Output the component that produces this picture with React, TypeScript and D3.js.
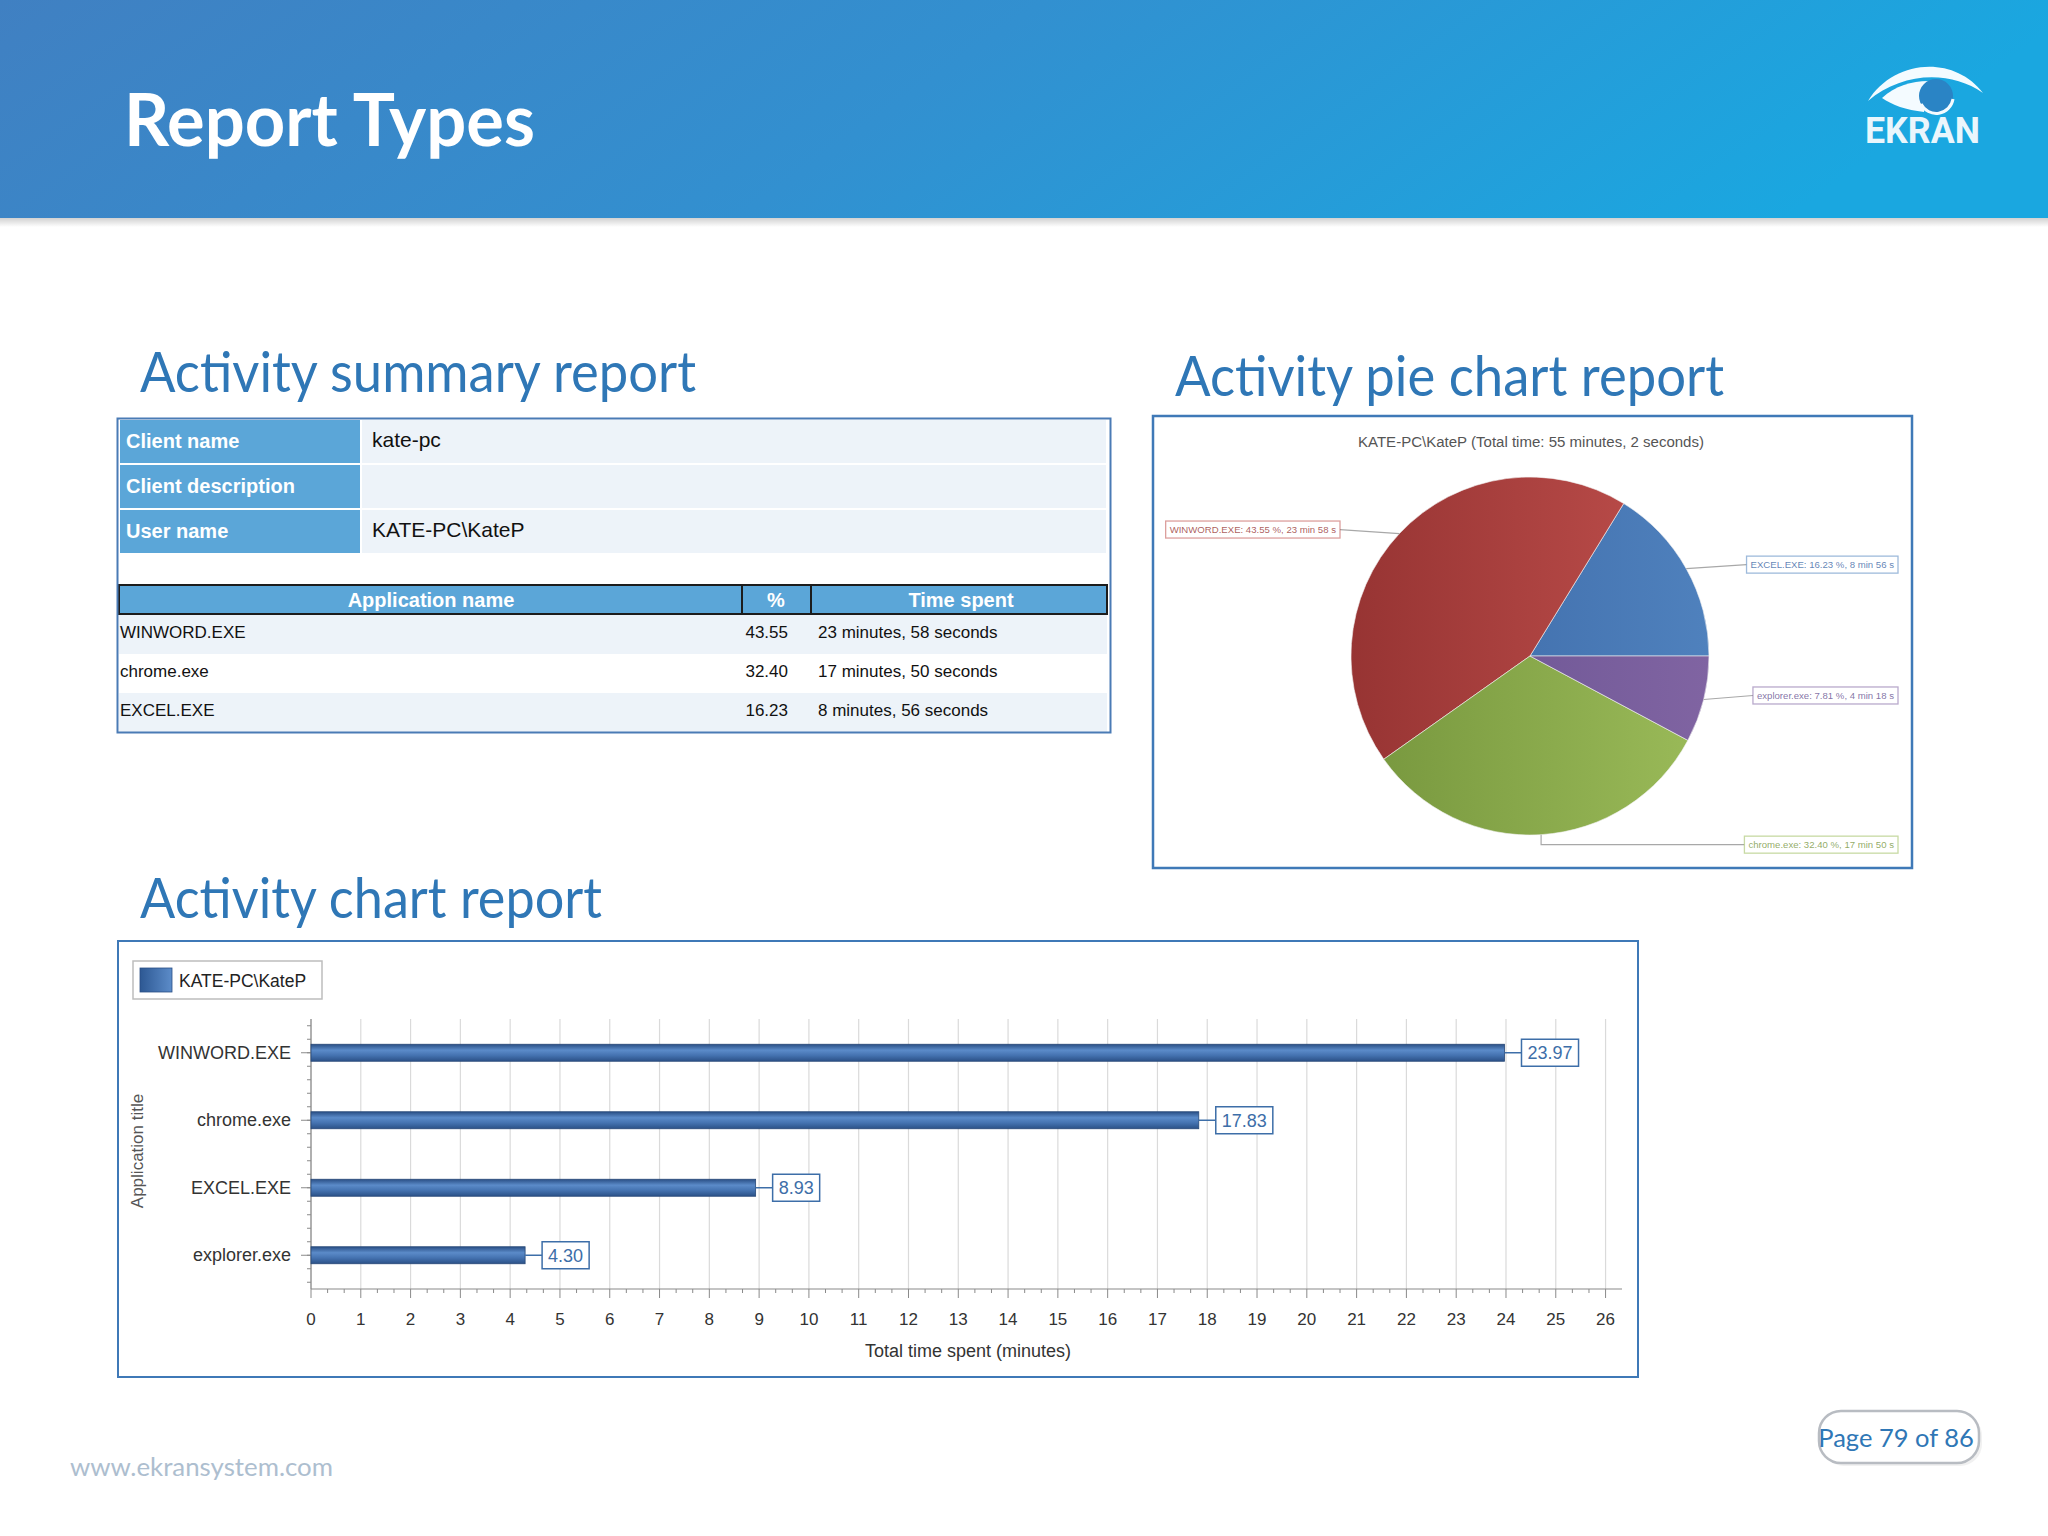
import React from 'react';
import * as d3 from 'd3';

const W = 2048;
const H = 1536;

// Activity summary report
const infoLabels = ['Client name', 'Client description', 'User name'];
const infoValues = ['kate-pc', '', 'KATE-PC\\KateP'];
const tableHeaders = ['Application name', '%', 'Time spent'];
const appNames = ['WINWORD.EXE', 'chrome.exe', 'EXCEL.EXE'];
const appPercents = [43.55, 32.4, 16.23];
const appTimes = ['23 minutes, 58 seconds', '17 minutes, 50 seconds', '8 minutes, 56 seconds'];

// Activity pie chart report (counter-clockwise from 3 o'clock)
const pieTitle = 'KATE-PC\\KateP (Total time: 55 minutes, 2 seconds)';
const pieApps = ['EXCEL.EXE', 'WINWORD.EXE', 'chrome.exe', 'explorer.exe'];
const piePercents = [16.23, 43.55, 32.4, 7.81];
const pieTimes = ['8 min 56 s', '23 min 58 s', '17 min 50 s', '4 min 18 s'];
const pieColors = ['#4f81bd', '#c0504d', '#9bbb59', '#8064a2'];
const pieDark = ['#3a66a4', '#973433', '#76963d', '#65508f'];

// Activity chart report
const seriesName = 'KATE-PC\\KateP';
const barApps = ['WINWORD.EXE', 'chrome.exe', 'EXCEL.EXE', 'explorer.exe'];
const barMinutes = [23.97, 17.83, 8.93, 4.3];
const xTickValues = d3.range(0, 27);

const ctx = document.createElement('canvas').getContext('2d');
const measure = (t: string, font: string) => {
  if (!ctx) return t.length * 8;
  ctx.font = font;
  return ctx.measureText(t).width;
};

const TITLE_BLUE = '#2f77b6';
const CELL_BLUE = '#5ba6d8';
const CELL_LIGHT = '#edf3f9';

function SummaryTable() {
  return (
    <g fontFamily="'Liberation Sans', Arial, sans-serif">
      {infoLabels.map((lab, i) => {
        const top = 420 + i * 45;
        return (
          <g key={lab}>
            <rect x={120} y={top} width={240} height={43} fill={CELL_BLUE} />
            <rect x={362} y={top} width={744} height={43} fill={CELL_LIGHT} />
            <text x={126} y={top + 28} fill="#fff" fontWeight="bold" fontSize={20}>{lab}</text>
            <text x={372} y={top + 27} fill="#111" fontSize={21}>{infoValues[i]}</text>
          </g>
        );
      })}
      <rect x={119} y={585} width={988} height={29} fill={CELL_BLUE} stroke="#1c1c1c" strokeWidth={2} />
      <line x1={742} x2={742} y1={585} y2={614} stroke="#1c1c1c" strokeWidth={2} />
      <line x1={811} x2={811} y1={585} y2={614} stroke="#1c1c1c" strokeWidth={2} />
      {tableHeaders.map((h, i) => (
        <text key={h} x={[431, 776, 961][i]} y={607} textAnchor="middle" fill="#fff" fontWeight="bold" fontSize={20}>{h}</text>
      ))}
      {appNames.map((name, i) => {
        const top = 615 + i * 39;
        return (
          <g key={name}>
            <rect x={119} y={top} width={988} height={39} fill={i % 2 === 0 ? CELL_LIGHT : '#ffffff'} />
            <text x={120} y={top + 23} fill="#111" fontSize={17}>{name}</text>
            <text x={788} y={top + 23} fill="#111" fontSize={17} textAnchor="end">{appPercents[i].toFixed(2)}</text>
            <text x={818} y={top + 23} fill="#111" fontSize={17}>{appTimes[i]}</text>
          </g>
        );
      })}
      <rect x={117.5} y={418.5} width={993} height={314} fill="none" stroke="#4a7bb5" strokeWidth={2} />
    </g>
  );
}

function PieChart() {
  const cx = 1530;
  const cy = 656;
  const r = 179;
  const pie = d3.pie<number>().sort(null).startAngle(Math.PI / 2).endAngle(Math.PI / 2 - 2 * Math.PI);
  const arcs = pie(piePercents);
  const arc = d3.arc<d3.PieArcDatum<number>>().innerRadius(0).outerRadius(r);
  const edge = d3.arc<d3.PieArcDatum<number>>().innerRadius(r).outerRadius(r);
  const labelFont = "9.6px 'Liberation Sans'";
  return (
    <g>
      <rect x={1153} y={416} width={759} height={452} fill="#fff" stroke="#3f79b7" strokeWidth={2.5} />
      <defs>
        {pieColors.map((c, i) => (
          <linearGradient key={c} id={`pg${i}`} gradientUnits="userSpaceOnUse" x1={-r} y1={0} x2={r} y2={0}>
            <stop offset="0%" stopColor={pieDark[i]} />
            <stop offset="100%" stopColor={c} />
          </linearGradient>
        ))}
      </defs>
      <text x={1531} y={447} textAnchor="middle" fontSize={14} fill="#555" fontFamily="'Liberation Sans', Arial, sans-serif" textLength={346} lengthAdjust="spacingAndGlyphs">{pieTitle}</text>
      <g transform={`translate(${cx},${cy})`}>
        {arcs.map((a, i) => (
          <path key={pieApps[i]} d={arc(a) || ''} fill={`url(#pg${i})`} stroke="#f2f2f2" strokeWidth={0.6} />
        ))}
      </g>
      {arcs.map((a, i) => {
        const [px, py] = edge.centroid(a);
        const ex = cx + px;
        const ey = cy + py;
        const right = px > 0;
        const bottom = py > r * 0.9;
        const ly = bottom ? ey + 10 : ey - 4;
        const label = `${pieApps[i]}: ${piePercents[i].toFixed(2)} %, ${pieTimes[i]}`;
        const tw = measure(label, labelFont);
        const bw = tw + 8;
        const bx = right ? 1898 - bw : 1340 - bw;
        const lineEnd = right ? bx : bx + bw;
        const pts = bottom ? `${ex},${ey} ${ex},${ly} ${lineEnd},${ly}` : `${ex},${ey} ${lineEnd},${ly}`;
        return (
          <g key={pieApps[i]}>
            <polyline points={pts} fill="none" stroke="#a8a8a8" strokeWidth={1.2} />
            <rect x={bx} y={ly - 8.5} width={bw} height={17} fill="#fff" stroke={pieColors[i]} strokeOpacity={0.55} strokeWidth={1.3} />
            <text x={bx + 4} y={ly + 3.5} fontSize={9.6} fontFamily="'Liberation Sans', Arial, sans-serif" fill={pieDark[i]} fillOpacity={0.8}>{label}</text>
          </g>
        );
      })}
    </g>
  );
}

function BarChart() {
  const x = d3.scaleLinear().domain([0, 26.33]).range([311, 1622]);
  const y = d3.scaleBand<string>().domain(barApps).range([1019, 1289]);
  const bw = y.bandwidth();
  const barH = 17;
  const font = "'Liberation Sans', Arial, sans-serif";
  const minorY: number[] = [];
  const step = bw / 5;
  for (let v = 1019 + bw / 2 - step * 2; v <= 1289; v += step) if (v >= 1019) minorY.push(v);
  const minorX = d3.range(0, 26.33, 1 / 3).filter((v) => Math.abs(v - Math.round(v)) > 0.01);
  return (
    <g fontFamily={font}>
      <rect x={118} y={941} width={1520} height={436} fill="#fff" stroke="#3f79b7" strokeWidth={2} />
      <defs>
        <linearGradient id="barGrad" x1="0" y1="0" x2="0" y2="1">
          <stop offset="0%" stopColor="#2a4f85" />
          <stop offset="35%" stopColor="#5b8bc9" />
          <stop offset="65%" stopColor="#4573b1" />
          <stop offset="100%" stopColor="#2b5187" />
        </linearGradient>
        <linearGradient id="legGrad" x1="0" y1="0" x2="1" y2="0">
          <stop offset="0%" stopColor="#2d5893" />
          <stop offset="100%" stopColor="#5c8cc9" />
        </linearGradient>
      </defs>
      {/* legend */}
      <rect x={133} y={961} width={189} height={38} fill="#fff" stroke="#bdbdbd" strokeWidth={1.5} />
      <rect x={140} y={968} width={32} height={24} fill="url(#legGrad)" stroke="#2a4f85" strokeWidth={0.8} />
      <text x={179} y={987} fontSize={17.5} fill="#222">{seriesName}</text>
      {/* grid */}
      {xTickValues.map((t) => (
        <line key={t} x1={x(t)} x2={x(t)} y1={1019} y2={1289} stroke="#dadada" strokeWidth={1.2} />
      ))}
      {/* axes */}
      <line x1={311} x2={311} y1={1019} y2={1289} stroke="#8a8a8a" strokeWidth={1.2} />
      <line x1={311} x2={1622} y1={1289} y2={1289} stroke="#8a8a8a" strokeWidth={1.2} />
      {minorY.map((v, i) => (
        <line key={`my${i}`} x1={307} x2={311} y1={v} y2={v} stroke="#8a8a8a" strokeWidth={1} />
      ))}
      {barApps.map((a) => {
        const c = (y(a) || 0) + bw / 2;
        return <line key={`ty${a}`} x1={301} x2={311} y1={c} y2={c} stroke="#8a8a8a" strokeWidth={1} />;
      })}
      {minorX.map((v, i) => (
        <line key={`mx${i}`} x1={x(v)} x2={x(v)} y1={1289} y2={1293} stroke="#8a8a8a" strokeWidth={1} />
      ))}
      {xTickValues.map((t) => (
        <g key={`tx${t}`}>
          <line x1={x(t)} x2={x(t)} y1={1289} y2={1298} stroke="#8a8a8a" strokeWidth={1} />
          <text x={x(t)} y={1325} textAnchor="middle" fontSize={17} fill="#333">{t}</text>
        </g>
      ))}
      {/* bars */}
      {barApps.map((a, i) => {
        const c = (y(a) || 0) + bw / 2;
        const v = barMinutes[i];
        const end = x(v);
        const lab = v.toFixed(2);
        const tw = measure(lab, `18px ${font}`);
        const bx = end + 17;
        return (
          <g key={a}>
            <text x={291} y={c + 6} textAnchor="end" fontSize={18} fill="#333">{a}</text>
            <rect x={311} y={c - barH / 2} width={end - 311} height={barH} fill="url(#barGrad)" stroke="#274877" strokeWidth={0.8} />
            <line x1={end} x2={bx} y1={c} y2={c} stroke="#3d6ea8" strokeWidth={1.5} />
            <rect x={bx} y={c - 13.5} width={tw + 12} height={27} fill="#fff" stroke="#3d6ea8" strokeWidth={1.5} />
            <text x={bx + 6} y={c + 6.5} fontSize={18} fill="#3d6ea8">{lab}</text>
          </g>
        );
      })}
      <text x={968} y={1357} textAnchor="middle" fontSize={18} fill="#333">Total time spent (minutes)</text>
      <text transform="translate(143,1151) rotate(-90)" textAnchor="middle" fontSize={17} fill="#555">Application title</text>
    </g>
  );
}

export default function App() {
  return (
    <svg width={W} height={H} viewBox={`0 0 ${W} ${H}`} style={{ position: 'absolute', left: 0, top: 0, background: '#fff' }}>
      <defs>
        <linearGradient id="hdr" x1="0" y1="0" x2="1" y2="0.15">
          <stop offset="0%" stopColor="#4080c2" />
          <stop offset="50%" stopColor="#3290d0" />
          <stop offset="100%" stopColor="#1aa7e0" />
        </linearGradient>
        <linearGradient id="hdrShadow" x1="0" y1="0" x2="0" y2="1">
          <stop offset="0%" stopColor="#000" stopOpacity={0.18} />
          <stop offset="100%" stopColor="#000" stopOpacity={0} />
        </linearGradient>
      </defs>
      <rect width={W} height={H} fill="#fff" />
      {/* header band */}
      <rect x={0} y={0} width={W} height={218} fill="url(#hdr)" />
      <rect x={0} y={218} width={W} height={9} fill="url(#hdrShadow)" />
      <text x={124} y={146} fill="#fff" fontFamily="Lato, 'Open Sans', sans-serif" fontWeight="bold" fontSize={72} textLength={411} lengthAdjust="spacingAndGlyphs">Report Types</text>
      {/* logo */}
      <g>
        <path d="M1868,101 C1893,60 1953,54 1983,93 C1950,70 1902,72 1868,101 Z" fill="#f4fbff" />
        <path d="M1882,98 C1895,86 1912,81 1928,81 L1924,112 C1906,110 1892,105 1882,98 Z" fill="#f4fbff" />
        <circle cx={1936} cy={96} r={17} fill="#2a84c5" />
        <path d="M1921,104 A17,17 0 0 0 1953,99" fill="none" stroke="#f4fbff" strokeWidth={3} />
        <text x={1865} y={143} fill="#eaf6fc" fontFamily="Roboto, 'Open Sans', sans-serif" fontWeight="bold" fontSize={36} textLength={115} lengthAdjust="spacingAndGlyphs">EKRAN</text>
      </g>
      {/* section titles */}
      <g fontFamily="Lato, 'Open Sans', sans-serif" fill={TITLE_BLUE} fontSize={56}>
        <text x={140} y={392} textLength={556} lengthAdjust="spacingAndGlyphs">Activity summary report</text>
        <text x={1175} y={396} textLength={549} lengthAdjust="spacingAndGlyphs">Activity pie chart report</text>
        <text x={140} y={918} textLength={462} lengthAdjust="spacingAndGlyphs">Activity chart report</text>
      </g>
      <SummaryTable />
      <PieChart />
      <BarChart />
      {/* footer */}
      <text x={70} y={1476} fill="#adbecf" fontFamily="Lato, 'Open Sans', sans-serif" fontSize={25} textLength={263} lengthAdjust="spacingAndGlyphs">www.ekransystem.com</text>
      <rect x={1820} y={1412} width={160} height={52} rx={22} fill="#e8e8e8" opacity={0.6} transform="translate(2,2)" />
      <rect x={1819} y={1411} width={160} height={52} rx={22} fill="#fff" stroke="#b8bcc2" strokeWidth={2.5} />
      <text x={1896} y={1447} textAnchor="middle" fill={TITLE_BLUE} fontFamily="Lato, 'Open Sans', sans-serif" fontSize={25.5}>Page 79 of 86</text>
    </svg>
  );
}
